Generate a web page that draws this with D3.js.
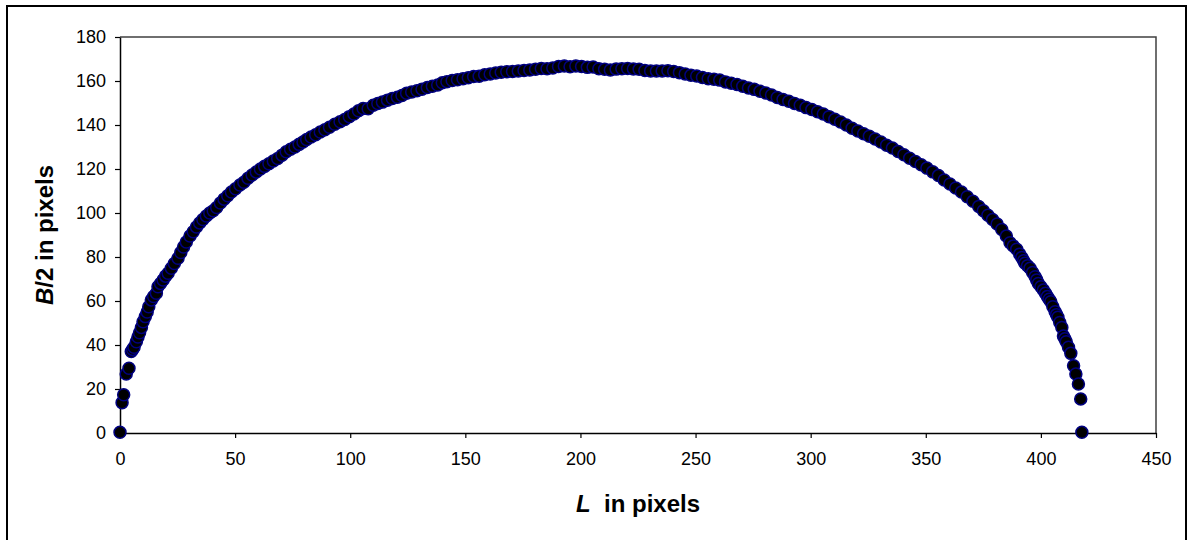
<!DOCTYPE html>
<html>
<head>
<meta charset="utf-8">
<script src="https://cdn.jsdelivr.net/npm/d3@7"></script>
<style>
  body { margin: 0; background: #fff; }
  svg { display: block; }
  .tick text { font-family: Arial, "Liberation Sans", sans-serif; font-size: 18px; fill: #000; }
  .title { font-family: Arial, "Liberation Sans", sans-serif; font-size: 24px; font-weight: bold; fill: #000; }
</style>
</head>
<body>
<svg id="chart" width="1191" height="540"></svg>
<script>
// L in pixels (x) and B/2 in pixels (y)
var lengthPx = [
  0, 0.9, 1.6, 2.7, 3.9, 4.9, 5.5, 6.1, 7.1, 7.8, 8.5, 9.3, 10, 11, 11.8, 12.5, 13.6, 14.6, 15.8, 16.5,
  17.6, 18.7, 19.8, 20.9, 22.3, 23.6, 25.2, 26.4, 27.6, 28.8, 30.4, 31.8, 33.2, 34.6, 36, 37.5, 39, 40.5, 42, 43.6,
  45.2, 46.8, 48.4, 50.2, 52.1, 53.8, 55.6, 57.4, 59.2, 61, 62.8, 64.7, 66.6, 68.5, 70.4, 72.2, 74.1, 76, 77.8, 79.5,
  81.1, 83, 85, 87, 89, 91, 93.3, 95.6, 97.6, 99.6, 101.6, 103.6, 105.6, 107.8, 110, 112, 114, 116.2, 118.3, 120.5,
  122.5, 124.5, 126.7, 129, 131.2, 133.5, 135.7, 138, 140, 142, 144.3, 146.6, 149, 151.3, 153.6, 156, 158.4, 160.8, 163.2, 165.6,
  168, 170.5, 173, 175.5, 178, 180.5, 183, 185.5, 188, 190.5, 193, 195.5, 198, 200.5, 203, 205.5, 208, 210.5, 213, 215.5,
  218, 220.5, 223, 225.5, 228, 230.5, 233, 235.5, 238, 240.5, 243, 245.5, 248, 250.5, 253, 255.5, 258, 260.5, 263, 265.5,
  268, 270.5, 273, 275.5, 278, 280.5, 283, 285.5, 288, 290.5, 293, 295.5, 298, 300.5, 303, 305.5, 308, 310.5, 313, 315.5,
  318, 320.5, 323, 325.5, 328, 330.5, 333, 335.5, 338, 340.5, 343, 345.5, 348, 350.5, 353, 355.5, 358, 360.5, 363, 365.5,
  368, 370.5, 373, 375, 377, 379, 381, 383, 385, 386.6, 388, 389.5, 390.8, 391.7, 392.5, 393.1, 394.2, 395.3, 396.4, 397.5,
  398.2, 398.9, 400, 401.1, 402, 402.8, 403.6, 404.3, 405.2, 406.2, 406.8, 407.4, 408.2, 409.1, 409.8, 410.4, 411, 412, 413, 414.2,
  415.2, 416.3, 417.3, 417.8
];
var halfBreadthPx = [
  0.3, 13.8, 17.4, 26.8, 29.4, 37, 38, 39, 41.5, 43.6, 45.6, 48, 50.6, 52.9, 55, 57.4, 60.5, 62, 63.5, 66.5,
  68, 69.5, 71.3, 72.6, 74.9, 77, 79.4, 82, 84.5, 86.8, 89.5, 91.5, 93.6, 95.5, 97, 98.6, 100, 101, 102.5, 104.5,
  106.3, 107.8, 109.5, 111, 112.7, 114, 115.8, 117.3, 118.6, 120, 121.2, 122.4, 123.6, 124.8, 126.3, 127.8, 129, 130, 131.2, 132.3,
  133.4, 134.5, 135.6, 136.8, 137.8, 139, 140.3, 141.5, 142.5, 143.8, 145, 146.5, 147.5, 147.4, 149, 149.8, 150.4, 151.3, 152, 152.6,
  153.4, 154.4, 155, 155.6, 156.3, 157, 157.6, 158.2, 159.2, 159.7, 160.2, 160.6, 161, 161.5, 162, 162.2, 162.8, 163.2, 163.6, 164,
  164.2, 164.3, 164.5, 164.8, 165, 165.3, 165.7, 165.6, 165.9, 166.6, 166.8, 166.5, 166.8, 166.6, 166.2, 166.4, 165.6, 165.3, 165, 165.4,
  165.6, 165.7, 165.5, 165.3, 164.8, 164.6, 164.5, 164.6, 164.7, 164.3, 163.8, 163.2, 162.6, 162.3, 161.6, 161, 160.8, 160.4, 159.6, 159,
  158.4, 157.6, 156.8, 156.2, 155.3, 154.5, 153.6, 152.5, 151.6, 150.8, 149.8, 149, 147.9, 147, 146, 145, 143.8, 142.6, 141.4, 140,
  138.5, 137.3, 136, 134.9, 133.6, 132.3, 130.8, 129.5, 128, 126.5, 124.9, 123.4, 121.9, 120.4, 118.7, 117, 115, 113.2, 111.4, 109.5,
  107.4, 105.3, 103, 101, 99, 97, 95, 92.5, 89.5, 86.5, 85, 83.5, 81.3, 79.8, 78.3, 77.2, 76, 74.9, 73, 71,
  69.6, 68, 66.5, 65, 63.5, 62, 60.8, 59.7, 57.4, 55.1, 53.8, 52.6, 50.2, 48, 44.1, 42.8, 41.5, 39, 36.2, 30.6,
  26.8, 22.3, 15.5, 0.3
];
var xTicks = [0, 50, 100, 150, 200, 250, 300, 350, 400, 450];
var yTicks = [0, 20, 40, 60, 80, 100, 120, 140, 160, 180];

var points = lengthPx.map(function(l, i) { return { l: l, b: halfBreadthPx[i] }; });

var svg = d3.select("#chart");
var plotLeft = 120, plotRight = 1156, plotTop = 37, plotBottom = 433;

var x = d3.scaleLinear().domain([0, 450]).range([plotLeft, plotRight]);
var y = d3.scaleLinear().domain([0, 180]).range([plotBottom, plotTop]);

// outer chart border
svg.append("rect")
  .attr("x", 7).attr("y", 6)
  .attr("width", 1179).attr("height", 540)
  .attr("fill", "#fff")
  .attr("stroke", "#000")
  .attr("stroke-width", 2);

// plot area frame (top + right)
svg.append("path")
  .attr("d", "M" + plotLeft + "," + plotTop + "H" + plotRight + "V" + plotBottom)
  .attr("fill", "none")
  .attr("stroke", "#404040")
  .attr("stroke-width", 1.5);

svg.append("g")
  .attr("transform", "translate(" + plotLeft + ",0)")
  .call(d3.axisLeft(y).tickValues(yTicks).tickSize(5).tickSizeOuter(0).tickPadding(9));

svg.append("g")
  .attr("transform", "translate(0," + plotBottom + ")")
  .call(d3.axisBottom(x).tickValues(xTicks).tickSize(5).tickSizeOuter(0).tickPadding(14));

svg.selectAll(".domain").attr("stroke", "#000").attr("stroke-width", 1.5);
svg.selectAll(".tick line").attr("stroke", "#000").attr("stroke-width", 1.2);
svg.selectAll(".tick text").attr("font-family", null).attr("font-size", null);

// axis titles
var xt = svg.append("text")
  .attr("class", "title")
  .attr("x", (plotLeft + plotRight) / 2)
  .attr("y", 512)
  .attr("text-anchor", "middle")
  .attr("xml:space", "preserve");
xt.append("tspan").attr("font-style", "italic").text("L");
xt.append("tspan").text("  in pixels");

var yt = svg.append("text")
  .attr("class", "title")
  .attr("transform", "translate(53," + (plotTop + plotBottom) / 2 + ") rotate(-90)")
  .attr("text-anchor", "middle");
yt.append("tspan").attr("font-style", "italic").text("B");
yt.append("tspan").text("/2 in pixels");

// markers
svg.append("g")
  .selectAll("circle")
  .data(points)
  .enter().append("circle")
    .attr("cx", function(d) { return x(d.l); })
    .attr("cy", function(d) { return y(d.b); })
    .attr("r", 6)
    .attr("fill", "#000")
    .attr("stroke", "#000080")
    .attr("stroke-width", 1.5);
</script>
</body>
</html>
